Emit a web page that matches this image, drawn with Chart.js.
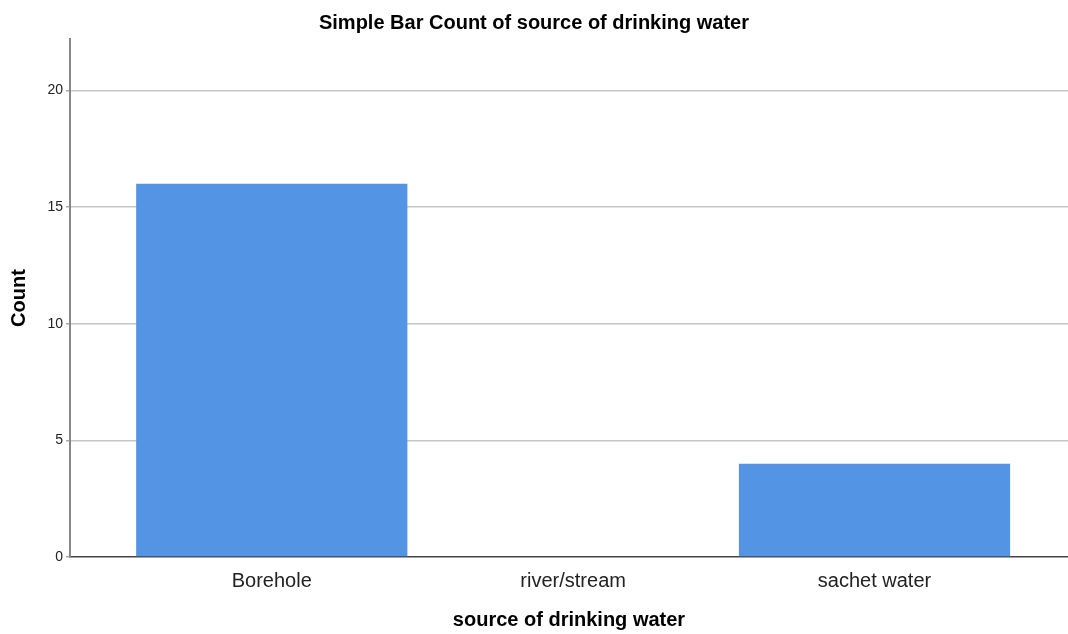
<!DOCTYPE html>
<html>
<head>
<meta charset="utf-8">
<script src="https://cdn.jsdelivr.net/npm/chart.js@4.4.1/dist/chart.umd.min.js"></script>
<style>
  html, body { margin: 0; padding: 0; background: #fff; }
  #wrap { width: 1068px; height: 634px; }
</style>
</head>
<body>
<div id="wrap"><canvas id="barChart" width="1068" height="634"></canvas></div>
<script>
const categories = ['Borehole', 'river/stream', 'sachet water'];
const counts = [16, 0, 4];
const yTicks = [0, 5, 10, 15, 20];

const FONT = "'Liberation Sans', Arial, sans-serif";

function buildPoints() {
    return categories.map(function (name, i) {
      return { x: i, y: counts[i] };
    });
}

const ctx = document.getElementById('barChart');

new Chart(ctx, {
    type: 'bar',
    data: {
      datasets: [{
        label: 'Count',
        data: buildPoints(),
        backgroundColor: '#5494e4',
        borderWidth: 0,
        categoryPercentage: 1.0,
        barPercentage: 0.9
      }]
    },
    options: {
      responsive: false,
      animation: false,
      layout: { padding: 0 },
      plugins: {
        legend: { display: false },
        tooltip: { enabled: false },
        title: {
          display: true,
          text: 'Simple Bar Count of source of drinking water',
          color: '#000',
          font: { family: FONT, size: 20, weight: 'bold' },
          padding: { top: 11, bottom: 4 }
        }
      },
      scales: {
        x: {
          type: 'linear',
          offset: false,
          min: -0.6695,
          max: 2.642,
          afterFit: function (scale) { scale.height = 77; },
          afterBuildTicks: function (scale) {
            scale.ticks = categories.map(function (c, i) { return { value: i }; });
          },
          grid: { display: false },
          border: { display: true, color: '#444', width: 1.5 },
          ticks: {
            callback: function (value) { return categories[value] ?? ''; },
            color: '#222',
            font: { family: FONT, size: 20 },
            padding: 4,
            maxRotation: 0,
            autoSkip: false
          },
          title: {
            display: true,
            text: 'source of drinking water',
            color: '#000',
            font: { family: FONT, size: 20, weight: 'bold' },
            padding: { top: 0, bottom: 2 }
          }
        },
        y: {
          min: 0,
          max: 22.2,
          afterFit: function (scale) { scale.width = 70; },
          afterBuildTicks: function (scale) {
            scale.ticks = yTicks.map(function (v) { return { value: v }; });
          },
          grid: {
            color: function (c) { return c.tick && c.tick.value === 0 ? 'rgba(0,0,0,0)' : '#c6c6c6'; },
            lineWidth: 1.5,
            drawTicks: true,
            tickLength: 4,
            tickColor: '#aaa'
          },
          border: { display: true, color: '#888', width: 2 },
          ticks: {
            color: '#222',
            font: { family: FONT, size: 14 },
            padding: 3
          },
          title: {
            display: true,
            text: 'Count',
            color: '#000',
            font: { family: FONT, size: 20, weight: 'bold' },
            padding: { top: 7, bottom: 0 }
          }
        }
      }
    }
});
</script>
</body>
</html>
